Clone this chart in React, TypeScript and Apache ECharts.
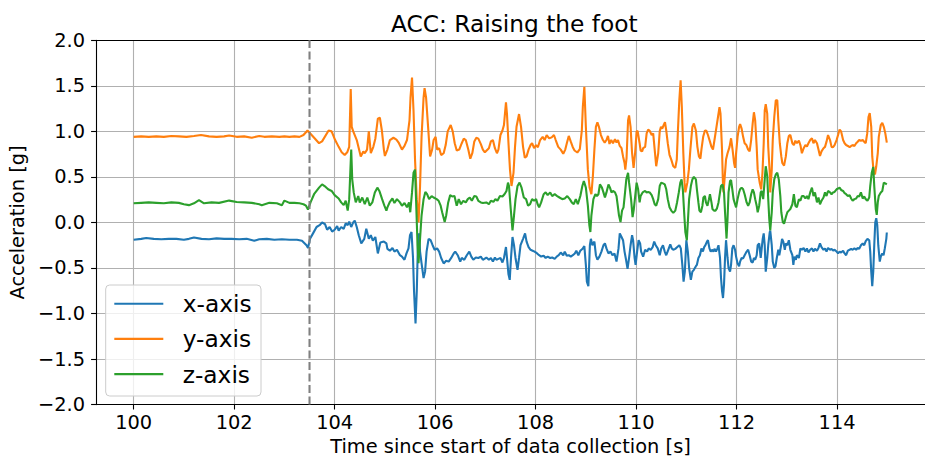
import { useEffect, useRef } from "react";
import * as echarts from "echarts";

const chartTitle = "ACC: Raising the foot";
const xAxisTitle = "Time since start of data collection [s]";
const yAxisTitle = "Acceleration [g]";
const seriesNames = ["x-axis", "y-axis", "z-axis"];
const seriesColors = ["#1f77b4", "#ff7f0e", "#2ca02c"];
const xTicks = [100, 102, 104, 106, 108, 110, 112, 114];
const xRange = [99.25, 115.75];
const yRange = [-2, 2];
const yStep = 0.5;
const markerTime = 103.5;

// x-axis acceleration [time s, value g]
const accX: number[][] = [
  [100.0,-0.19],[100.15,-0.18],[100.25,-0.17],[100.4,-0.18],[100.55,-0.185],[100.7,-0.18],[100.85,-0.18],[101.0,-0.19],[101.1,-0.18],[101.2,-0.165],[101.35,-0.18],[101.5,-0.185],[101.65,-0.175],[101.8,-0.18],[101.95,-0.18],[102.1,-0.185],[102.25,-0.18],[102.4,-0.2],[102.5,-0.185],[102.65,-0.18],[102.8,-0.19],[102.95,-0.185],[103.1,-0.19],[103.25,-0.19],[103.35,-0.2],
  [103.44,-0.25],[103.47,-0.28],[103.51,-0.18],[103.57,-0.12],[103.64,-0.05],[103.7,-0.03],[103.75,0.0],[103.81,-0.02],[103.85,-0.08],[103.9,-0.05],[103.95,-0.1],[104.0,-0.08],[104.05,-0.04],[104.08,-0.09],[104.13,-0.05],[104.18,-0.07],[104.22,-0.01],[104.26,-0.03],[104.29,0.01],[104.33,-0.05],[104.37,0.0],[104.4,0.02],[104.44,-0.05],[104.48,-0.14],[104.53,-0.23],[104.59,-0.18],[104.63,-0.07],[104.68,-0.18],[104.72,-0.14],[104.76,-0.2],[104.81,-0.16],[104.86,-0.34],[104.91,-0.22],[104.98,-0.21],[105.03,-0.23],
  [105.05,-0.29],[105.1,-0.31],[105.15,-0.28],[105.19,-0.32],[105.24,-0.3],[105.3,-0.36],[105.34,-0.375],[105.39,-0.41],[105.43,-0.34],[105.47,-0.285],[105.5,-0.14],[105.53,-0.105],[105.56,-0.39],[105.58,-0.75],[105.61,-1.11],[105.635,-0.75],[105.66,-0.18],[105.68,-0.12],[105.7,-0.32],[105.73,-0.45],[105.77,-0.61],[105.8,-0.54],[105.83,-0.32],[105.87,-0.18],[105.91,-0.195],[105.95,-0.25],[105.99,-0.3],[106.04,-0.285],[106.08,-0.32],[106.12,-0.39],[106.17,-0.45],[106.22,-0.42],[106.27,-0.43],[106.32,-0.39],[106.37,-0.34],[106.4,-0.32],[106.45,-0.36],[106.5,-0.43],[106.53,-0.39],[106.58,-0.41],[106.63,-0.36],[106.68,-0.32],[106.72,-0.375],[106.76,-0.41],[106.81,-0.385],[106.86,-0.39],[106.91,-0.375],[106.95,-0.41],
  [107.02,-0.385],[107.07,-0.41],[107.11,-0.39],[107.15,-0.43],[107.19,-0.385],[107.22,-0.41],[107.26,-0.4],[107.3,-0.39],[107.34,-0.44],[107.37,-0.39],[107.41,-0.27],[107.43,-0.39],[107.46,-0.57],[107.485,-0.63],[107.51,-0.39],[107.54,-0.16],[107.57,-0.25],[107.6,-0.39],[107.64,-0.52],[107.67,-0.39],[107.7,-0.25],[107.75,-0.18],[107.79,-0.12],[107.82,-0.21],[107.86,-0.27],[107.9,-0.3],[107.94,-0.31],[107.98,-0.32],[108.03,-0.34],[108.07,-0.36],[108.11,-0.375],[108.16,-0.365],[108.2,-0.39],[108.24,-0.375],[108.29,-0.39],[108.33,-0.385],[108.38,-0.4],[108.42,-0.375],[108.46,-0.36],[108.5,-0.33],[108.55,-0.36],[108.58,-0.32],[108.62,-0.365],[108.66,-0.36],[108.7,-0.375],[108.74,-0.36],[108.78,-0.34],[108.81,-0.31],[108.85,-0.36],[108.89,-0.31],[108.94,-0.285],[108.97,-0.26],
  [109.0,-0.465],[109.02,-0.65],[109.05,-0.7],[109.08,-0.25],[109.1,-0.18],[109.13,-0.25],[109.17,-0.21],[109.2,-0.36],[109.23,-0.41],[109.27,-0.375],[109.31,-0.32],[109.35,-0.25],[109.38,-0.23],[109.41,-0.285],[109.45,-0.34],[109.49,-0.32],[109.53,-0.36],[109.57,-0.34],[109.61,-0.43],[109.65,-0.285],[109.675,-0.12],[109.71,-0.16],[109.74,-0.195],[109.77,-0.32],[109.8,-0.41],[109.83,-0.51],[109.86,-0.39],[109.89,-0.25],[109.92,-0.14],[109.94,-0.195],[109.97,-0.39],[109.99,-0.465],[110.02,-0.32],[110.05,-0.195],[110.08,-0.23],[110.1,-0.32],[110.14,-0.375],[110.18,-0.3],[110.22,-0.32],[110.25,-0.285],[110.29,-0.3],[110.33,-0.27],[110.36,-0.21],[110.39,-0.25],[110.43,-0.285],[110.47,-0.36],[110.5,-0.285],[110.535,-0.25],[110.57,-0.32],[110.6,-0.36],[110.64,-0.3],[110.68,-0.24],[110.71,-0.285],[110.74,-0.3],[110.78,-0.29],[110.82,-0.27],[110.86,-0.25],[110.89,-0.285],[110.92,-0.465],[110.945,-0.65],[110.97,-0.54],
  [111.0,-0.195],[111.03,-0.32],[111.055,-0.5],[111.09,-0.63],[111.12,-0.54],[111.15,-0.52],[111.19,-0.48],[111.21,-0.465],[111.24,-0.39],[111.27,-0.36],[111.3,-0.285],[111.33,-0.32],[111.355,-0.27],[111.38,-0.25],[111.41,-0.21],[111.43,-0.195],[111.46,-0.285],[111.485,-0.32],[111.51,-0.3],[111.54,-0.32],[111.56,-0.29],[111.59,-0.32],[111.62,-0.285],[111.64,-0.25],[111.67,-0.39],[111.69,-0.61],[111.71,-0.75],[111.73,-0.83],[111.75,-0.68],[111.77,-0.39],[111.79,-0.195],[111.82,-0.39],[111.84,-0.5],[111.87,-0.54],[111.89,-0.465],[111.915,-0.285],[111.94,-0.25],[111.97,-0.3],[111.99,-0.375],[112.02,-0.45],[112.05,-0.48],[112.07,-0.43],[112.1,-0.39],[112.13,-0.395],[112.16,-0.36],[112.2,-0.32],[112.23,-0.3],[112.26,-0.36],[112.29,-0.43],[112.32,-0.44],[112.345,-0.39],[112.37,-0.41],[112.4,-0.36],[112.42,-0.25],[112.45,-0.23],[112.48,-0.39],[112.5,-0.285],[112.52,-0.18],[112.54,-0.12],[112.56,-0.25],[112.58,-0.54],[112.61,-0.39],[112.63,-0.25],[112.66,-0.105],[112.67,-0.09],[112.7,-0.25],[112.72,-0.43],[112.75,-0.5],[112.775,-0.48],[112.8,-0.39],[112.83,-0.3],[112.85,-0.36],[112.88,-0.27],[112.905,-0.18],[112.93,-0.21],
  [112.96,-0.3],[112.98,-0.23],[113.01,-0.25],[113.04,-0.195],[113.07,-0.3],[113.11,-0.36],[113.13,-0.465],[113.15,-0.375],[113.18,-0.41],[113.2,-0.36],[113.24,-0.39],[113.27,-0.285],[113.3,-0.3],[113.335,-0.28],[113.37,-0.32],[113.4,-0.285],[113.43,-0.33],[113.465,-0.3],[113.5,-0.285],[113.53,-0.32],[113.56,-0.29],[113.6,-0.31],[113.63,-0.28],[113.66,-0.23],[113.69,-0.27],[113.73,-0.3],[113.76,-0.285],[113.79,-0.32],[113.82,-0.28],[113.86,-0.3],[113.89,-0.29],[113.92,-0.31],[113.95,-0.3],[113.99,-0.32],[114.02,-0.34],[114.05,-0.32],[114.08,-0.33],[114.12,-0.31],[114.15,-0.34],[114.18,-0.36],[114.215,-0.31],[114.25,-0.3],[114.28,-0.29],[114.31,-0.3],[114.345,-0.285],[114.38,-0.3],[114.41,-0.28],[114.44,-0.29],[114.475,-0.25],[114.51,-0.23],[114.54,-0.25],[114.57,-0.205],[114.605,-0.18],[114.64,-0.195],[114.66,-0.32],[114.68,-0.54],[114.7,-0.7],[114.72,-0.54],[114.74,-0.25],[114.76,0.0],[114.78,0.047],[114.8,-0.03],[114.82,-0.25],[114.85,-0.43],[114.87,-0.375],[114.9,-0.34],[114.925,-0.36],[114.95,-0.285],[114.98,-0.18],[114.99,-0.11],
];

// y-axis acceleration [time s, value g]
const accY: number[][] = [
  [100.0,0.94],[100.15,0.945],[100.3,0.94],[100.45,0.945],[100.6,0.94],[100.75,0.95],[100.9,0.945],[101.05,0.94],[101.2,0.95],[101.34,0.96],[101.5,0.945],[101.65,0.94],[101.8,0.945],[101.9,0.955],[102.05,0.94],[102.2,0.945],[102.35,0.93],[102.5,0.95],[102.6,0.94],[102.75,0.945],[102.9,0.94],[103.0,0.945],[103.1,0.94],[103.2,0.945],[103.3,0.94],[103.38,0.96],[103.46,1.01],
  [103.56,0.95],[103.69,0.87],[103.75,0.89],[103.88,1.01],[103.94,1.0],[104.01,0.905],[104.08,0.83],[104.14,0.77],[104.2,0.74],[104.25,0.77],[104.29,0.83],[104.32,1.465],[104.34,1.05],[104.37,1.0],[104.44,0.905],[104.48,0.815],[104.52,0.725],[104.57,0.78],[104.6,0.76],[104.645,0.8],[104.68,1.0],[104.72,0.76],[104.77,0.83],[104.81,0.92],[104.86,1.14],[104.9,1.15],[104.94,1.01],[104.98,0.8],[105.0,0.73],
  [105.05,0.8],[105.1,0.905],[105.17,0.93],[105.23,0.91],[105.28,0.87],[105.34,0.8],[105.39,0.84],[105.44,0.905],[105.49,1.12],[105.51,1.37],[105.54,1.59],[105.57,1.23],[105.6,0.69],[105.635,0.256],[105.67,0.0],[105.7,0.4],[105.73,0.94],[105.77,1.37],[105.79,1.475],[105.82,1.37],[105.86,1.05],[105.9,0.725],[105.94,0.8],[105.97,0.905],[106.01,0.94],[106.04,0.8],[106.08,0.815],[106.12,0.74],[106.17,0.76],[106.21,0.85],[106.25,1.0],[106.31,1.07],[106.35,1.0],[106.39,0.87],[106.43,0.79],[106.48,0.8],[106.53,0.87],[106.57,0.92],[106.61,0.905],[106.66,0.8],[106.7,0.7],[106.74,0.76],[106.78,0.89],[106.82,0.93],[106.86,0.92],[106.91,0.86],[106.95,0.8],[106.99,0.77],
  [107.07,0.815],[107.11,0.89],[107.15,0.905],[107.19,0.815],[107.23,0.76],[107.26,0.8],[107.3,0.96],[107.34,1.01],[107.37,1.07],[107.41,1.32],[107.43,1.19],[107.46,0.87],[107.49,0.58],[107.52,0.4],[107.56,0.545],[107.59,0.83],[107.62,1.05],[107.67,1.19],[107.71,1.05],[107.75,0.83],[107.785,0.71],[107.82,0.725],[107.86,0.8],[107.9,0.85],[107.93,0.87],[107.97,0.815],[108.01,0.85],[108.045,0.826],[108.09,0.905],[108.14,0.94],[108.18,0.905],[108.22,0.96],[108.27,0.924],[108.32,0.934],[108.365,0.96],[108.4,0.905],[108.45,0.83],[108.5,0.8],[108.55,0.754],[108.59,0.8],[108.625,0.877],[108.66,0.95],[108.7,0.887],[108.74,0.826],[108.775,0.79],[108.83,0.768],[108.88,0.804],[108.92,1.01],[108.94,1.27],[108.97,1.49],
  [109.0,1.05],[109.04,0.58],[109.075,0.38],[109.11,0.31],[109.14,0.51],[109.17,0.8],[109.2,1.05],[109.23,1.1],[109.26,1.05],[109.3,0.96],[109.34,0.905],[109.375,0.877],[109.41,0.905],[109.44,0.95],[109.47,0.862],[109.505,0.905],[109.54,0.87],[109.58,0.913],[109.61,0.877],[109.64,0.905],[109.675,0.84],[109.71,0.815],[109.74,0.725],[109.77,0.653],[109.785,0.58],[109.81,0.707],[109.84,1.12],[109.86,1.176],[109.89,1.05],[109.92,0.76],[109.95,0.6],[109.98,0.76],[110.01,1.0],[110.03,1.006],[110.07,0.87],[110.09,0.79],[110.12,0.78],[110.14,0.815],[110.18,0.83],[110.21,0.978],[110.24,1.02],[110.27,1.006],[110.31,0.96],[110.34,0.978],[110.37,0.8],[110.4,0.617],[110.44,0.76],[110.47,1.0],[110.495,1.05],[110.52,1.03],[110.55,1.07],[110.575,1.1],[110.6,1.01],[110.63,0.87],[110.665,0.743],[110.7,0.69],[110.74,0.617],[110.78,0.6],[110.81,0.69],[110.83,0.978],[110.86,1.34],[110.886,1.56],[110.91,1.27],[110.94,0.76],[110.965,0.437],
  [110.98,0.33],[111.02,0.437],[111.05,0.58],[111.08,0.8],[111.12,1.05],[111.15,1.086],[111.19,1.01],[111.22,0.83],[111.25,0.725],[111.28,0.7],[111.3,0.8],[111.335,0.94],[111.37,1.01],[111.4,1.006],[111.43,0.96],[111.47,0.887],[111.5,0.83],[111.53,0.8],[111.56,0.905],[111.6,1.05],[111.63,1.158],[111.66,1.266],[111.68,1.194],[111.71,0.8],[111.726,0.473],[111.74,0.33],[111.76,0.473],[111.79,0.69],[111.82,0.76],[111.86,0.83],[111.89,0.924],[111.92,0.8],[111.95,0.653],[111.97,0.6],[111.99,0.76],[112.02,0.94],[112.05,1.05],[112.07,1.08],[112.1,1.03],[112.13,0.94],[112.16,0.87],[112.195,0.85],[112.23,0.8],[112.26,0.78],[112.29,0.905],[112.32,1.086],[112.345,1.21],[112.37,1.12],[112.4,0.83],[112.42,0.58],[112.46,0.437],[112.49,0.364],[112.515,0.545],[112.54,0.87],[112.56,1.23],[112.58,1.3],[112.61,1.194],[112.63,0.83],[112.66,0.545],[112.67,0.33],[112.7,0.58],[112.72,0.905],[112.75,1.158],[112.78,1.34],[112.81,1.34],[112.83,1.12],[112.86,0.87],[112.89,0.725],[112.91,0.653],[112.945,0.624],
  [112.98,0.725],[113.01,0.87],[113.04,0.95],[113.07,0.96],[113.11,0.87],[113.14,0.85],[113.17,0.898],[113.2,0.87],[113.24,0.898],[113.27,0.85],[113.3,0.76],[113.335,0.815],[113.37,0.85],[113.4,0.833],[113.43,0.87],[113.465,0.905],[113.5,0.924],[113.53,0.87],[113.56,0.905],[113.6,0.87],[113.63,0.8],[113.66,0.73],[113.69,0.78],[113.73,0.815],[113.76,0.83],[113.79,0.887],[113.82,0.96],[113.86,0.905],[113.89,0.83],[113.92,0.826],[113.95,0.85],[113.99,0.905],[114.02,0.96],[114.05,1.02],[114.08,1.0],[114.12,0.905],[114.15,0.87],[114.18,0.85],[114.215,0.84],[114.25,0.826],[114.28,0.84],[114.31,0.85],[114.345,0.84],[114.38,0.87],[114.41,0.887],[114.44,0.905],[114.475,0.898],[114.51,0.905],[114.54,0.887],[114.57,0.87],[114.6,0.978],[114.625,1.158],[114.65,1.2],[114.68,1.05],[114.7,0.725],[114.73,0.545],[114.755,0.527],[114.78,0.617],[114.81,0.76],[114.83,0.94],[114.87,1.07],[114.9,1.093],[114.93,1.05],[114.96,0.978],[114.99,0.877],
];

// z-axis acceleration [time s, value g]
const accZ: number[][] = [
  [100.0,0.21],[100.15,0.215],[100.3,0.22],[100.45,0.215],[100.6,0.21],[100.75,0.22],[100.9,0.215],[101.0,0.2],[101.1,0.19],[101.2,0.21],[101.3,0.245],[101.4,0.21],[101.55,0.22],[101.7,0.215],[101.9,0.24],[102.05,0.225],[102.2,0.22],[102.35,0.215],[102.5,0.2],[102.55,0.19],[102.7,0.215],[102.85,0.21],[102.95,0.19],[103.0,0.24],[103.1,0.215],[103.2,0.215],[103.3,0.21],[103.38,0.2],
  [103.43,0.184],[103.47,0.141],[103.52,0.22],[103.59,0.31],[103.69,0.382],[103.75,0.418],[103.8,0.4],[103.87,0.364],[103.94,0.346],[104.0,0.3],[104.08,0.263],[104.13,0.22],[104.18,0.19],[104.22,0.238],[104.26,0.13],[104.29,0.256],[104.33,0.8],[104.35,0.473],[104.38,0.33],[104.42,0.22],[104.47,0.29],[104.5,0.22],[104.55,0.274],[104.6,0.2],[104.65,0.274],[104.7,0.184],[104.75,0.22],[104.8,0.33],[104.85,0.382],[104.89,0.346],[104.945,0.256],[104.99,0.184],[105.03,0.13],
  [105.05,0.166],[105.1,0.227],[105.15,0.263],[105.19,0.213],[105.24,0.256],[105.3,0.22],[105.34,0.184],[105.39,0.213],[105.44,0.166],[105.48,0.22],[105.505,0.112],[105.54,0.33],[105.57,0.545],[105.6,0.58],[105.62,0.256],[105.65,-0.249],[105.67,-0.447],[105.7,-0.177],[105.73,0.076],[105.77,0.256],[105.805,0.335],[105.84,0.31],[105.88,0.256],[105.93,0.29],[105.97,0.274],[106.03,0.256],[106.07,0.238],[106.11,0.184],[106.14,0.112],[106.19,0.004],[106.22,0.076],[106.26,0.22],[106.3,0.3],[106.34,0.285],[106.385,0.29],[106.43,0.184],[106.47,0.256],[106.515,0.2],[106.56,0.238],[106.61,0.22],[106.65,0.256],[106.69,0.274],[106.73,0.238],[106.78,0.29],[106.82,0.285],[106.86,0.238],[106.91,0.22],[106.95,0.213],
  [107.02,0.22],[107.07,0.2],[107.11,0.238],[107.16,0.227],[107.2,0.256],[107.24,0.238],[107.29,0.29],[107.34,0.285],[107.38,0.31],[107.42,0.346],[107.45,0.437],[107.47,0.4],[107.505,0.148],[107.54,-0.087],[107.57,0.076],[107.6,0.256],[107.64,0.4],[107.68,0.437],[107.72,0.382],[107.765,0.274],[107.81,0.256],[107.85,0.184],[107.89,0.2],[107.93,0.256],[107.97,0.238],[108.01,0.256],[108.04,0.2],[108.07,0.166],[108.11,0.22],[108.16,0.31],[108.2,0.33],[108.24,0.3],[108.29,0.33],[108.33,0.29],[108.38,0.31],[108.43,0.29],[108.475,0.274],[108.53,0.256],[108.58,0.263],[108.63,0.29],[108.68,0.256],[108.72,0.22],[108.76,0.2],[108.8,0.256],[108.84,0.2],[108.89,0.29],[108.93,0.4],[108.96,0.455],
  [109.0,0.382],[109.04,0.184],[109.07,-0.032],[109.09,-0.105],[109.11,0.076],[109.15,0.256],[109.19,0.31],[109.22,0.29],[109.25,0.31],[109.28,0.418],[109.32,0.382],[109.35,0.33],[109.38,0.274],[109.41,0.33],[109.45,0.418],[109.48,0.382],[109.51,0.33],[109.54,0.346],[109.58,0.33],[109.61,0.29],[109.635,0.184],[109.66,0.076],[109.69,0.004],[109.72,0.13],[109.75,0.166],[109.78,0.33],[109.805,0.473],[109.84,0.545],[109.86,0.437],[109.9,0.256],[109.93,0.058],[109.955,0.148],[109.99,0.33],[110.01,0.437],[110.04,0.364],[110.07,0.22],[110.09,0.29],[110.13,0.33],[110.18,0.346],[110.21,0.33],[110.24,0.335],[110.27,0.33],[110.31,0.3],[110.34,0.256],[110.37,0.2],[110.4,0.184],[110.44,0.256],[110.47,0.4],[110.5,0.437],[110.535,0.429],[110.57,0.418],[110.6,0.364],[110.63,0.256],[110.665,0.166],[110.7,0.13],[110.74,0.105],[110.78,0.13],[110.815,0.22],[110.85,0.33],[110.88,0.437],[110.905,0.473],[110.93,0.364],[110.96,0.076],[110.98,-0.105],[111.01,-0.195],
  [111.03,0.004],[111.055,0.256],[111.09,0.4],[111.12,0.473],[111.15,0.5],[111.19,0.473],[111.21,0.364],[111.24,0.22],[111.26,0.13],[111.29,0.112],[111.32,0.184],[111.34,0.274],[111.37,0.29],[111.39,0.22],[111.42,0.184],[111.45,0.256],[111.47,0.31],[111.5,0.22],[111.52,0.148],[111.55,0.13],[111.58,0.13],[111.61,0.155],[111.64,0.22],[111.67,0.33],[111.69,0.4],[111.72,0.418],[111.75,0.33],[111.77,0.112],[111.8,-0.177],[111.82,0.04],[111.84,0.33],[111.87,0.455],[111.89,0.465],[111.915,0.364],[111.94,0.256],[111.97,0.2],[111.99,0.166],[112.02,0.256],[112.05,0.33],[112.07,0.364],[112.1,0.382],[112.13,0.364],[112.16,0.31],[112.2,0.22],[112.23,0.184],[112.26,0.22],[112.29,0.31],[112.32,0.364],[112.345,0.33],[112.37,0.256],[112.4,0.184],[112.42,0.112],[112.45,0.184],[112.48,0.33],[112.5,0.346],[112.53,0.256],[112.55,0.4],[112.58,0.617],[112.61,0.509],[112.63,0.256],[112.65,0.04],[112.67,-0.087],[112.7,0.112],[112.72,0.33],[112.75,0.473],[112.78,0.527],[112.81,0.545],[112.84,0.473],[112.87,0.292],[112.89,0.112],[112.92,0.004],[112.945,-0.014],
  [112.98,0.058],[113.01,0.112],[113.04,0.13],[113.07,0.148],[113.11,0.2],[113.14,0.31],[113.17,0.184],[113.2,0.166],[113.24,0.256],[113.27,0.238],[113.3,0.29],[113.335,0.29],[113.37,0.263],[113.4,0.29],[113.43,0.256],[113.465,0.33],[113.5,0.382],[113.53,0.29],[113.56,0.33],[113.6,0.22],[113.63,0.274],[113.66,0.2],[113.69,0.238],[113.73,0.274],[113.76,0.33],[113.79,0.29],[113.82,0.346],[113.86,0.33],[113.89,0.31],[113.92,0.33],[113.95,0.335],[113.99,0.364],[114.02,0.372],[114.05,0.382],[114.08,0.357],[114.12,0.346],[114.15,0.321],[114.18,0.31],[114.215,0.29],[114.25,0.3],[114.28,0.263],[114.31,0.238],[114.345,0.256],[114.38,0.263],[114.41,0.29],[114.44,0.285],[114.475,0.33],[114.51,0.263],[114.54,0.285],[114.57,0.256],[114.605,0.238],[114.64,0.274],[114.66,0.4],[114.69,0.545],[114.72,0.61],[114.74,0.4],[114.77,0.148],[114.79,0.083],[114.81,0.22],[114.83,0.29],[114.87,0.33],[114.9,0.346],[114.93,0.437],[114.96,0.429],[114.99,0.418],
];

const FONT = '"DejaVu Sans", "Liberation Sans", sans-serif';

function buildOption() {
  const gridLeft = 94.3;
  const gridTop = 40.3;
  const gridWidth = 843.3;
  const gridHeight = 368;
  const legendX = 105.7;
  const legendY = 285;
  const rowGap = 35.2;
  const firstRow = 303.7;

  const seriesData = [accX, accY, accZ];
  const lineSeries = seriesData.map((d, i) => ({
    type: "line",
    name: seriesNames[i],
    data: d,
    xAxisIndex: 0,
    showSymbol: false,
    symbol: "none",
    silent: true,
    lineStyle: { color: seriesColors[i], width: 2.1 },
    itemStyle: { color: seriesColors[i] },
    z: 3 + i,
  }));

  const legendElements: any[] = [
    {
      type: "rect",
      shape: { x: legendX, y: legendY, width: 155.3, height: 111, r: 4 },
      style: { fill: "rgba(255,255,255,0.8)", stroke: "#cccccc", lineWidth: 1 },
      z: 100,
    },
  ];
  seriesNames.forEach((n, i) => {
    const y = firstRow + i * rowGap;
    legendElements.push({
      type: "line",
      shape: { x1: 114.3, y1: y, x2: 163.3, y2: y },
      style: { stroke: seriesColors[i], lineWidth: 2.1 },
      z: 101,
    });
    legendElements.push({
      type: "text",
      x: 182.7,
      y: y,
      style: {
        text: n,
        font: `23.3px ${FONT}`,
        fill: "#000",
        align: "left",
        verticalAlign: "middle",
        textAlign: "left",
        textVerticalAlign: "middle",
      },
      z: 101,
    });
  });

  return {
    animation: false,
    backgroundColor: "#ffffff",
    grid: {
      left: gridLeft,
      top: gridTop,
      width: gridWidth,
      height: gridHeight,
      show: false,
      containLabel: false,
    },
    xAxis: [
      {
        type: "value",
        min: xRange[0],
        max: xRange[1],
        position: "bottom",
        name: xAxisTitle,
        nameLocation: "middle",
        nameGap: 31.5,
        nameTextStyle: { fontFamily: FONT, fontSize: 19.4, color: "#000" },
        axisLine: { show: true, onZero: false, lineStyle: { color: "#000", width: 1.1 } },
        axisTick: { show: true, customValues: xTicks, length: 4.9, lineStyle: { color: "#000", width: 1.1 } },
        axisLabel: {
          customValues: xTicks,
          formatter: (v: number) => String(v),
          fontFamily: FONT,
          fontSize: 19.4,
          color: "#000",
          margin: 8.5,
        },
        splitLine: { show: true, lineStyle: { color: "#b0b0b0", width: 1.1 } },
      },
      {
        type: "value",
        min: xRange[0],
        max: xRange[1],
        position: "top",
        axisLine: { show: true, onZero: false, lineStyle: { color: "#000", width: 1.1 } },
        axisTick: { show: false },
        axisLabel: { show: false },
        splitLine: { show: false },
      },
    ],
    yAxis: {
      type: "value",
      min: yRange[0],
      max: yRange[1],
      interval: yStep,
      name: yAxisTitle,
      nameLocation: "middle",
      nameRotate: 90,
      nameGap: 63.5,
      nameTextStyle: { fontFamily: FONT, fontSize: 19.4, color: "#000" },
      axisLine: { show: true, onZero: false, lineStyle: { color: "#000", width: 1.1 } },
      axisTick: { show: true, length: 4.9, lineStyle: { color: "#000", width: 1.1 } },
      axisLabel: {
        formatter: (v: number) => v.toFixed(1).replace("-", "\u2212"),
        fontFamily: FONT,
        fontSize: 19.4,
        color: "#000",
        margin: 11,
      },
      splitLine: { show: true, lineStyle: { color: "#b0b0b0", width: 1.1 } },
    },
    series: [
      ...lineSeries,
      {
        type: "line",
        name: "marker",
        xAxisIndex: 0,
        data: [
          [markerTime, yRange[0]],
          [markerTime, yRange[1]],
        ],
        showSymbol: false,
        symbol: "none",
        silent: true,
        lineStyle: { color: "#808080", width: 2.1, type: [8, 3.5] },
        z: 10,
      },
    ],
    graphic: [
      {
        type: "text",
        x: 514.3,
        y: 23,
        style: {
          text: chartTitle,
          font: `23.3px ${FONT}`,
          fill: "#000",
          align: "center",
          verticalAlign: "middle",
          textAlign: "center",
          textVerticalAlign: "middle",
        },
        z: 100,
      },
      ...legendElements,
    ],
  };
}

export default function App() {
  const ref = useRef<HTMLDivElement>(null);
  useEffect(() => {
    if (!ref.current) return;
    const chart = echarts.init(ref.current, null, { renderer: "svg" });
    chart.setOption(buildOption() as any);
    return () => chart.dispose();
  }, []);
  return (
    <div
      ref={ref}
      style={{ position: "absolute", left: 0, top: 0, width: 925, height: 461, background: "#fff" }}
    />
  );
}
